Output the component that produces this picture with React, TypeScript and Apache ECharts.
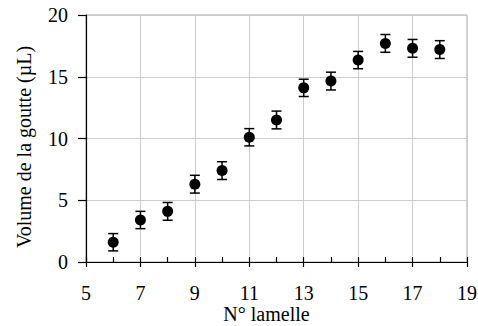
import React, { useEffect, useRef } from "react";
import * as echarts from "echarts";

const lamelles = [6, 7, 8, 9, 10, 11, 12, 13, 14, 15, 16, 17, 18];
const volumes = [1.6, 3.4, 4.1, 6.3, 7.4, 10.1, 11.5, 14.1, 14.65, 16.35, 17.7, 17.3, 17.2];
const errors = [0.7, 0.7, 0.72, 0.72, 0.72, 0.7, 0.72, 0.7, 0.72, 0.7, 0.72, 0.72, 0.72];

const FONT = "Liberation Serif";

export default function App() {
  const ref = useRef<HTMLDivElement>(null);
  useEffect(() => {
    if (!ref.current) return;
    const chart = echarts.init(ref.current, null, { renderer: "svg" });
    const points = lamelles.map((x, i) => [x, volumes[i]]);
    const bars = lamelles.map((x, i) => [x, volumes[i] - errors[i], volumes[i] + errors[i]]);
    chart.setOption({
      animation: false,
      backgroundColor: "#ffffff",
      textStyle: { fontFamily: FONT },
      grid: {
        left: 86,
        top: 15,
        right: 11,
        bottom: 64,
        show: true,
        borderColor: "#a6a6a6",
        borderWidth: 1,
        containLabel: false,
        outerBoundsMode: "none",
      },
      xAxis: [
        {
          type: "value",
          min: 5,
          max: 19,
          interval: 2,
          name: "N° lamelle",
          nameLocation: "middle",
          nameGap: 42,
          nameMoveOverlap: false,
          nameTextStyle: { fontFamily: FONT, fontSize: 20, color: "#000", padding: [0, 20, 0, 0], lineHeight: 20 },
          axisLine: { show: true, onZero: false, lineStyle: { color: "#000", width: 1.2 } },
          axisTick: { show: true, inside: false, length: 5, lineStyle: { color: "#000", width: 1.2 } },
          axisLabel: { fontFamily: FONT, fontSize: 20, color: "#000", margin: 21 },
          splitLine: { show: true, lineStyle: { color: "#cccccc", width: 1 } },
        },
        {
          type: "value",
          min: 5,
          max: 19,
          interval: 1,
          position: "bottom",
          axisLine: { show: false, onZero: false },
          axisTick: { show: true, inside: true, length: 5, lineStyle: { color: "#000", width: 1.2 } },
          axisLabel: { show: false },
          splitLine: { show: false },
        },
      ],
      yAxis: {
        type: "value",
        min: 0,
        max: 20,
        interval: 5,
        name: "Volume de la goutte (µL)",
        nameLocation: "middle",
        nameGap: 52,
        nameMoveOverlap: false,
        nameTextStyle: { fontFamily: FONT, fontSize: 20, color: "#000", padding: [0, 17, 0, 0] },
        axisLine: { show: true, lineStyle: { color: "#000", width: 1.2 } },
        axisTick: { show: true, inside: false, length: 8, lineStyle: { color: "#000", width: 1.2 } },
        axisLabel: { fontFamily: FONT, fontSize: 20, color: "#000", margin: 18 },
        splitLine: { show: true, lineStyle: { color: "#cccccc", width: 1 } },
      },
      series: [
        {
          type: "custom",
          xAxisIndex: 0,
          data: bars,
          z: 3,
          renderItem: (params: any, api: any) => {
            const x = api.value(0);
            const lo = api.coord([x, api.value(1)]);
            const hi = api.coord([x, api.value(2)]);
            const cap = 5;
            const style = { stroke: "#000", lineWidth: 1.5 };
            return {
              type: "group",
              children: [
                { type: "line", shape: { x1: lo[0], y1: lo[1], x2: hi[0], y2: hi[1] }, style },
                { type: "line", shape: { x1: lo[0] - cap, y1: lo[1], x2: lo[0] + cap, y2: lo[1] }, style },
                { type: "line", shape: { x1: hi[0] - cap, y1: hi[1], x2: hi[0] + cap, y2: hi[1] }, style },
              ],
            };
          },
        },
        {
          type: "scatter",
          xAxisIndex: 0,
          data: points,
          symbol: "circle",
          symbolSize: 11,
          itemStyle: { color: "#000", opacity: 1 },
          z: 4,
        },
      ],
    });
    return () => chart.dispose();
  }, []);
  return (
    <div
      ref={ref}
      style={{ position: "fixed", left: 0, top: 0, width: 478, height: 326 }}
    />
  );
}
